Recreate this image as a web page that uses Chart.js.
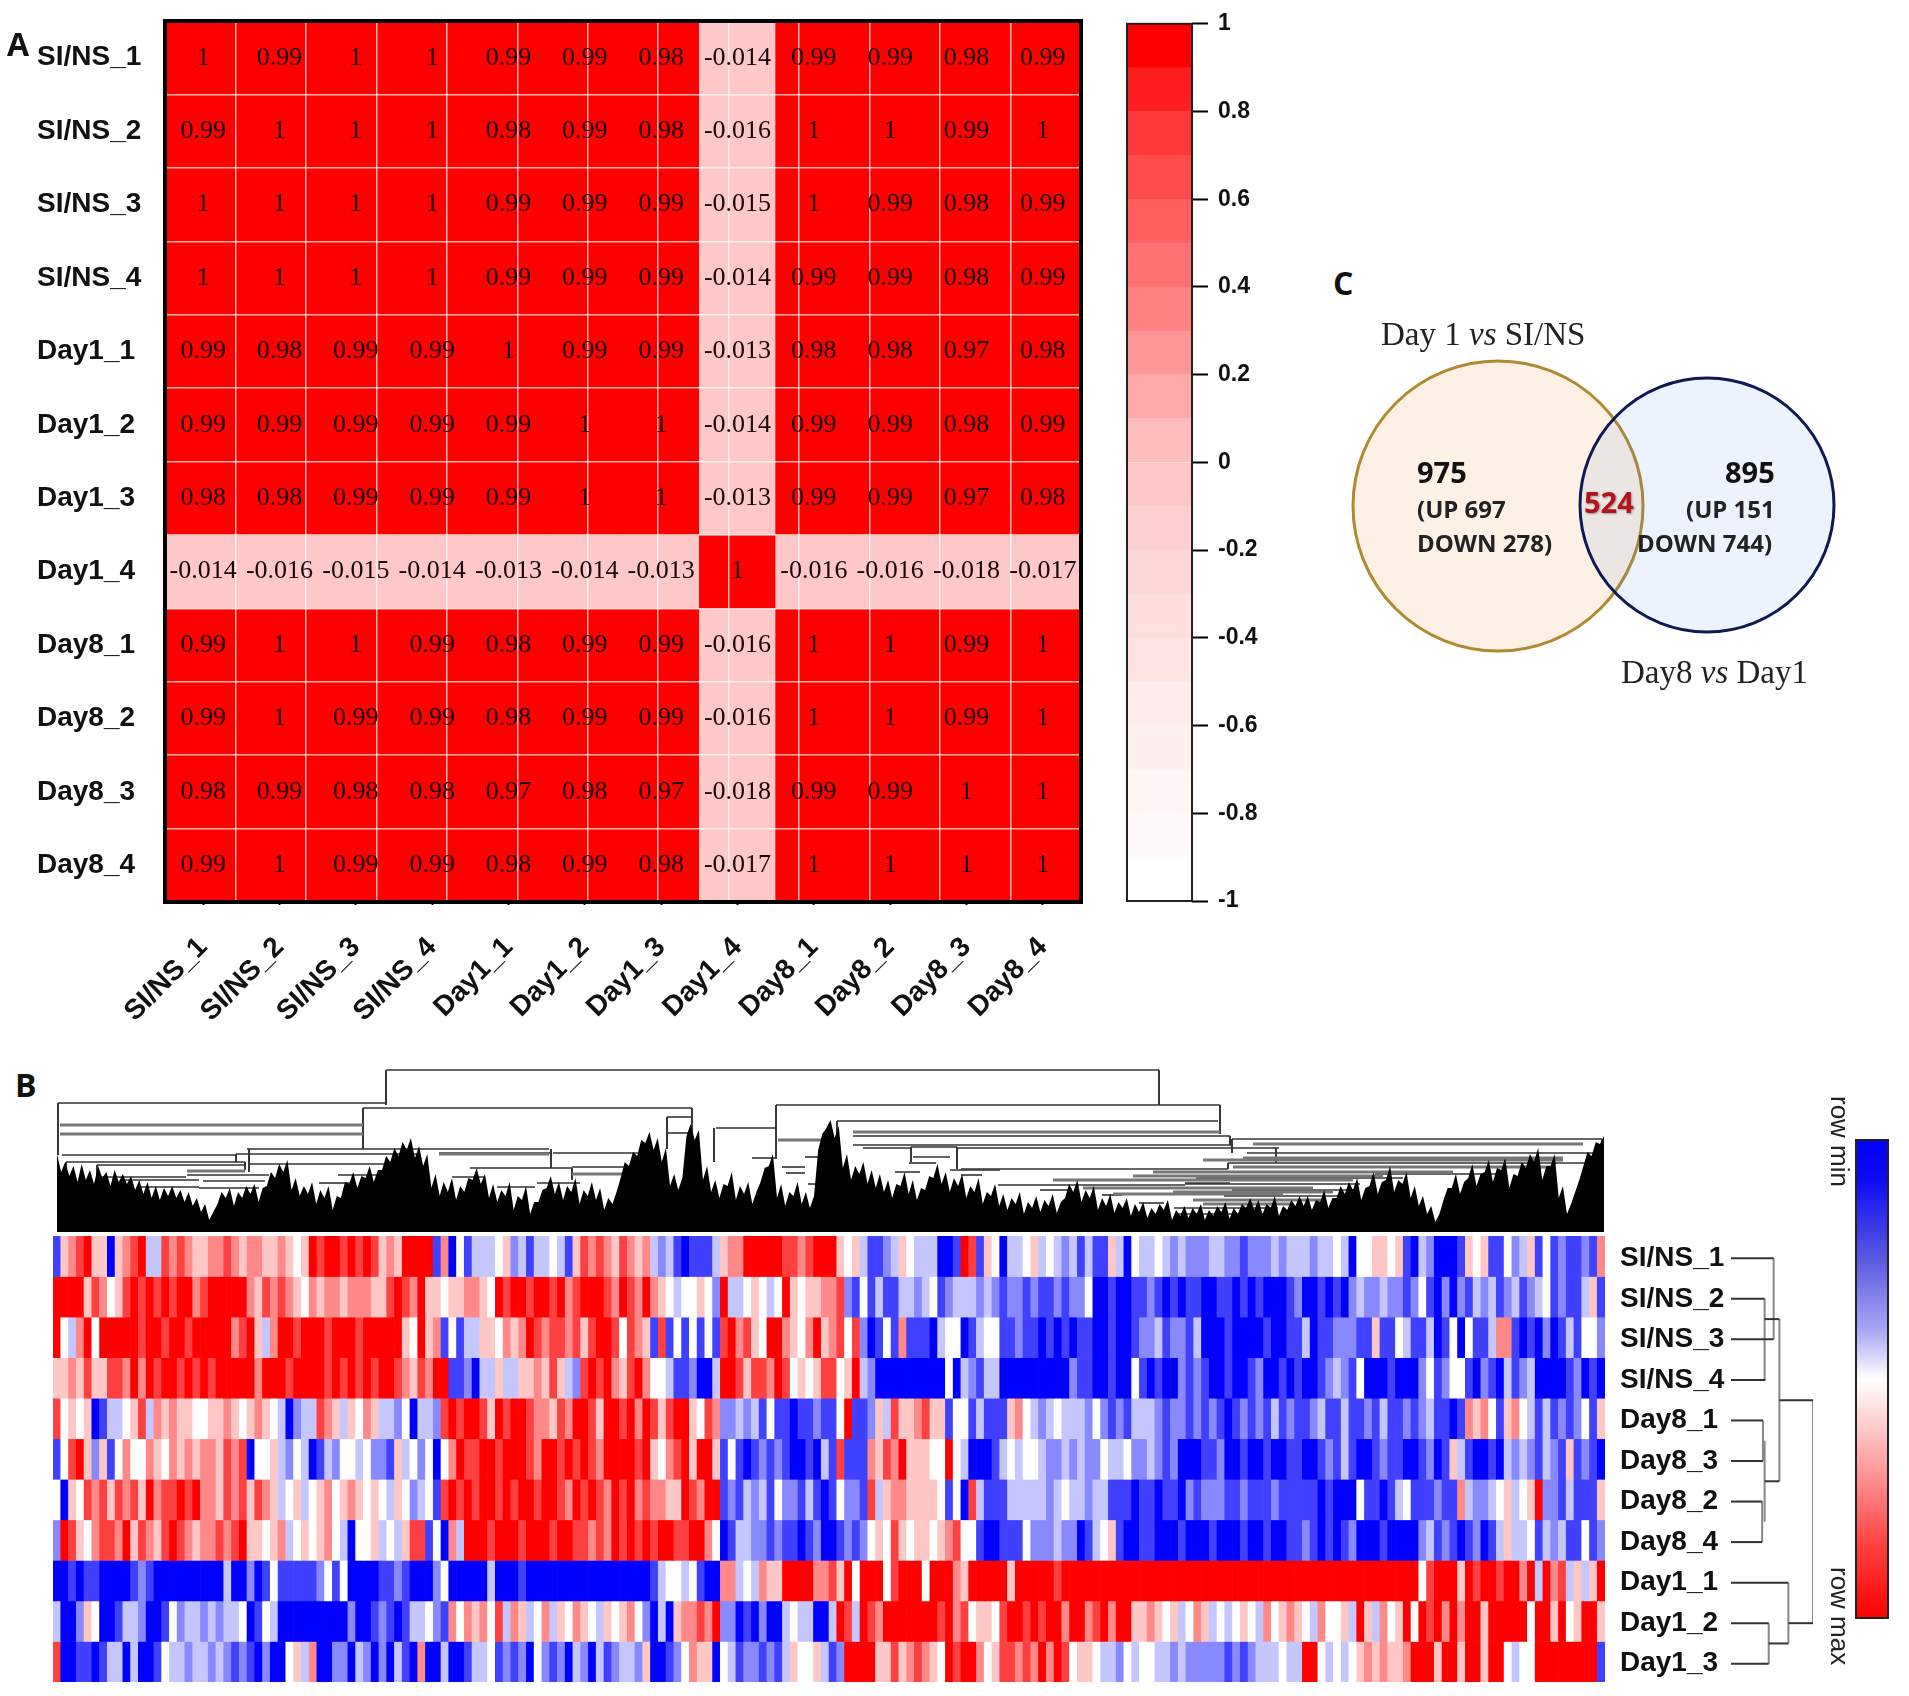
<!DOCTYPE html>
<html lang="en">

<head>
  <meta charset="UTF-8" />
  <title>Correlation, clustering and Venn panels</title>
  <script src="https://cdn.jsdelivr.net/npm/chart.js"></script>
  <style>
    body,
    html {
      margin: 0;
      background: #fff;
      width: 1909px;
      height: 1696px;
      overflow: hidden;
    }

    canvas,
    .txt {
      position: absolute;
    }

    .txt {
      white-space: nowrap;
      line-height: 1;
      color: #111;
    }

    .letter {
      font: bold 32px 'Open Sans', sans-serif;
    }

    .serif {
      font: 33px 'Liberation Serif', serif;
      color: #222;
    }

    .big {
      font: bold 29px 'Open Sans', sans-serif;
    }

    .small {
      font: bold 24px 'Open Sans', sans-serif;
      color: #222;
    }

    .side {
      font: 26px 'Liberation Sans', sans-serif;
      writing-mode: vertical-rl;
      color: #222;
    }
  </style>
</head>

<body>
  <canvas id="corr" width="1100" height="1060" style="left:0;top:0"></canvas>
  <canvas id="corrBar" width="160" height="930" style="left:1100px;top:0"></canvas>
  <canvas id="venn" width="560" height="320" style="left:1320px;top:346px"></canvas>
  <canvas id="colTree" width="1552" height="172" style="left:53px;top:1060px"></canvas>
  <canvas id="heat" width="1552" height="446" style="left:53px;top:1236px"></canvas>
  <canvas id="rowTree" width="205" height="486" style="left:1615px;top:1218px"></canvas>
  <canvas id="heatBar" width="40" height="490" style="left:1852px;top:1134px"></canvas>

  <div class="txt letter" style="left:7px;top:22px">A</div>
  <div class="txt letter" style="left:15px;top:1063px">B</div>
  <div class="txt letter" style="left:1333px;top:261px">C</div>
  <div class="txt serif" style="left:1381px;top:316px">Day 1 <i>vs</i> SI/NS</div>
  <div class="txt serif" style="left:1621px;top:654px">Day8 <i>vs</i> Day1</div>
  <div class="txt big" style="left:1417px;top:452px">975</div>
  <div class="txt small" style="left:1417px;top:492px">(UP 697</div>
  <div class="txt small" style="left:1417px;top:526px">DOWN 278)</div>
  <div class="txt big" style="left:1725px;top:452px">895</div>
  <div class="txt small" style="left:1686px;top:492px">(UP 151</div>
  <div class="txt small" style="left:1637px;top:526px">DOWN 744)</div>
  <div class="txt big" style="left:1584px;top:482px;color:#b5121b;text-shadow:1px 1px 2px #999">524</div>
  <div class="txt side" style="left:1824px;top:1096px">row min</div>
  <div class="txt side" style="left:1824px;top:1567px">row max</div>

  <script>
    // panel A
    const samples = ['SI/NS_1', 'SI/NS_2', 'SI/NS_3', 'SI/NS_4', 'Day1_1', 'Day1_2', 'Day1_3', 'Day1_4', 'Day8_1', 'Day8_2', 'Day8_3', 'Day8_4'];
    const corrSiNs1 = [1, 0.99, 1, 1, 0.99, 0.99, 0.98, -0.014, 0.99, 0.99, 0.98, 0.99];
    const corrSiNs2 = [0.99, 1, 1, 1, 0.98, 0.99, 0.98, -0.016, 1, 1, 0.99, 1];
    const corrSiNs3 = [1, 1, 1, 1, 0.99, 0.99, 0.99, -0.015, 1, 0.99, 0.98, 0.99];
    const corrSiNs4 = [1, 1, 1, 1, 0.99, 0.99, 0.99, -0.014, 0.99, 0.99, 0.98, 0.99];
    const corrDay11 = [0.99, 0.98, 0.99, 0.99, 1, 0.99, 0.99, -0.013, 0.98, 0.98, 0.97, 0.98];
    const corrDay12 = [0.99, 0.99, 0.99, 0.99, 0.99, 1, 1, -0.014, 0.99, 0.99, 0.98, 0.99];
    const corrDay13 = [0.98, 0.98, 0.99, 0.99, 0.99, 1, 1, -0.013, 0.99, 0.99, 0.97, 0.98];
    const corrDay14 = [-0.014, -0.016, -0.015, -0.014, -0.013, -0.014, -0.013, 1, -0.016, -0.016, -0.018, -0.017];
    const corrDay81 = [0.99, 1, 1, 0.99, 0.98, 0.99, 0.99, -0.016, 1, 1, 0.99, 1];
    const corrDay82 = [0.99, 1, 0.99, 0.99, 0.98, 0.99, 0.99, -0.016, 1, 1, 0.99, 1];
    const corrDay83 = [0.98, 0.99, 0.98, 0.98, 0.97, 0.98, 0.97, -0.018, 0.99, 0.99, 1, 1];
    const corrDay84 = [0.99, 1, 0.99, 0.99, 0.98, 0.99, 0.98, -0.017, 1, 1, 1, 1];
    const corrRows = [corrSiNs1, corrSiNs2, corrSiNs3, corrSiNs4, corrDay11, corrDay12, corrDay13, corrDay14, corrDay81, corrDay82, corrDay83, corrDay84];

    // green and blue channel of each colour bar step, from -1 up to 1
    const barSteps = [255, 250, 245, 240, 235, 228, 222, 215, 208, 200, 188, 170, 150, 130, 112, 95, 75, 55, 30, 0];

    // panel B, expression level per gene: 0 = row min (blue), 4 = middle (white), 8 = row max (red)
    const exprSiNs1 = [
      1, 5, 6, 7, 8, 5, 5, 0, 5, 6, 7, 8, 3, 3, 7, 6, 7, 6, 5, 5,
      6, 6, 7, 6, 5, 6, 6, 5, 5, 6, 5, 4, 5, 8, 7, 8, 8, 7, 8, 7,
      8, 7, 5, 6, 5, 8, 8, 8, 8, 1, 6, 0, 4, 1, 3, 3, 3, 4, 5, 2,
      3, 1, 3, 3, 4, 3, 1, 5, 7, 6, 7, 6, 5, 7, 6, 5, 6, 3, 2, 3,
      1, 0, 1, 1, 1, 3, 5, 6, 6, 8, 8, 8, 8, 8, 7, 7, 6, 7, 8, 8,
      8, 5, 4, 5, 3, 1, 1, 2, 3, 5, 4, 3, 3, 3, 0, 0, 1, 8, 7, 1,
      5, 4, 0, 3, 3, 4, 5, 3, 4, 3, 2, 3, 1, 3, 1, 1, 5, 3, 0, 4,
      3, 3, 4, 3, 2, 3, 2, 2, 2, 3, 3, 2, 2, 1, 2, 2, 2, 3, 2, 3,
      3, 3, 2, 3, 3, 4, 3, 0, 4, 4, 5, 5, 4, 5, 1, 0, 3, 2, 0, 0,
      0, 1, 5, 4, 5, 1, 1, 4, 2, 3, 5, 1, 4, 1, 2, 1, 1, 2, 1, 6];
    const exprSiNs2 = [
      8, 8, 8, 8, 5, 7, 6, 4, 5, 7, 8, 7, 8, 7, 8, 7, 8, 8, 6, 7,
      8, 8, 8, 8, 8, 6, 5, 7, 6, 7, 6, 5, 4, 6, 5, 6, 6, 5, 6, 6,
      6, 5, 5, 7, 8, 7, 6, 8, 5, 5, 4, 5, 5, 6, 6, 5, 4, 8, 7, 8,
      8, 7, 8, 8, 7, 8, 6, 7, 8, 8, 8, 7, 6, 8, 7, 6, 8, 6, 5, 4,
      3, 4, 4, 5, 4, 2, 8, 3, 3, 4, 5, 4, 3, 4, 8, 5, 4, 5, 5, 6,
      6, 7, 2, 1, 4, 1, 3, 1, 1, 3, 3, 2, 3, 4, 1, 2, 3, 3, 3, 2,
      3, 2, 1, 2, 2, 1, 2, 1, 1, 2, 1, 2, 2, 4, 0, 0, 1, 0, 0, 1,
      1, 2, 1, 0, 1, 0, 1, 1, 0, 0, 1, 1, 0, 1, 0, 1, 0, 0, 0, 1,
      2, 0, 0, 1, 0, 1, 0, 2, 3, 2, 2, 3, 2, 2, 1, 2, 4, 1, 0, 2,
      0, 2, 1, 3, 2, 3, 1, 2, 3, 1, 2, 3, 4, 1, 2, 1, 1, 3, 5, 1];
    const exprSiNs3 = [
      8, 4, 3, 6, 8, 4, 8, 8, 8, 8, 8, 7, 8, 8, 7, 8, 8, 7, 8, 8,
      8, 8, 8, 6, 7, 8, 5, 3, 6, 8, 8, 7, 8, 8, 8, 7, 8, 8, 8, 7,
      8, 8, 8, 8, 8, 5, 4, 8, 5, 6, 1, 4, 1, 3, 3, 5, 5, 4, 6, 5,
      6, 8, 7, 6, 7, 7, 6, 7, 5, 7, 8, 8, 7, 4, 7, 6, 5, 1, 7, 1,
      4, 1, 4, 1, 4, 1, 7, 8, 6, 7, 5, 4, 8, 8, 6, 5, 4, 6, 8, 5,
      6, 7, 4, 7, 2, 0, 1, 4, 1, 6, 1, 1, 1, 0, 3, 4, 4, 0, 1, 3,
      4, 4, 1, 1, 2, 1, 1, 0, 1, 0, 1, 0, 1, 1, 0, 0, 1, 0, 0, 1,
      2, 2, 3, 1, 2, 2, 1, 3, 0, 0, 0, 1, 0, 0, 0, 0, 1, 0, 0, 1,
      1, 3, 0, 1, 1, 2, 2, 2, 1, 1, 5, 1, 1, 4, 3, 1, 1, 3, 0, 1,
      4, 0, 4, 1, 1, 3, 6, 6, 1, 0, 1, 0, 2, 0, 1, 3, 1, 4, 4, 2];
    const exprSiNs4 = [
      5, 5, 6, 5, 7, 5, 5, 7, 7, 6, 8, 6, 8, 7, 8, 8, 7, 8, 7, 8,
      7, 8, 8, 8, 8, 8, 6, 8, 8, 8, 7, 8, 8, 8, 8, 7, 8, 7, 8, 7,
      8, 7, 8, 8, 7, 6, 5, 7, 6, 8, 8, 1, 1, 2, 0, 3, 3, 5, 3, 3,
      5, 5, 6, 5, 7, 5, 3, 2, 7, 8, 7, 8, 6, 5, 7, 8, 6, 4, 4, 3,
      1, 1, 2, 0, 0, 3, 8, 8, 7, 5, 7, 7, 6, 8, 7, 4, 5, 4, 5, 7,
      7, 4, 5, 8, 3, 2, 0, 0, 0, 0, 0, 0, 0, 0, 0, 4, 0, 3, 2, 1,
      3, 3, 0, 0, 0, 0, 0, 0, 0, 0, 0, 2, 1, 1, 0, 0, 1, 0, 0, 4,
      1, 0, 1, 0, 0, 2, 1, 2, 1, 0, 0, 1, 0, 0, 1, 2, 0, 0, 1, 0,
      1, 0, 0, 1, 2, 3, 2, 1, 4, 0, 0, 0, 1, 0, 0, 0, 2, 4, 1, 2,
      4, 4, 1, 0, 2, 1, 0, 3, 1, 2, 3, 0, 0, 0, 0, 1, 2, 0, 1, 0];
    const exprDay81 = [
      7, 4, 5, 4, 5, 0, 1, 3, 3, 4, 5, 7, 3, 6, 5, 6, 5, 5, 4, 4,
      5, 5, 6, 5, 4, 5, 6, 5, 4, 3, 0, 2, 3, 3, 7, 6, 5, 3, 5, 4,
      6, 5, 3, 3, 2, 4, 0, 3, 3, 2, 7, 8, 7, 8, 8, 7, 5, 8, 7, 8,
      8, 7, 6, 6, 5, 7, 6, 8, 8, 7, 5, 8, 8, 7, 8, 6, 8, 7, 5, 7,
      8, 8, 5, 4, 7, 6, 2, 2, 3, 2, 3, 1, 4, 1, 1, 0, 1, 1, 2, 1,
      1, 4, 8, 1, 1, 2, 5, 3, 7, 5, 5, 6, 7, 5, 5, 1, 4, 4, 1, 3,
      1, 1, 1, 5, 6, 4, 3, 2, 3, 4, 3, 3, 3, 2, 4, 2, 1, 2, 1, 3,
      3, 3, 2, 1, 2, 2, 1, 2, 1, 2, 1, 0, 1, 2, 1, 2, 1, 3, 1, 2,
      1, 1, 2, 3, 1, 1, 3, 1, 1, 2, 1, 3, 1, 1, 2, 1, 2, 3, 1, 1,
      0, 1, 6, 5, 6, 4, 1, 5, 6, 4, 3, 1, 3, 1, 2, 1, 2, 4, 1, 5];
    const exprDay83 = [
      1, 4, 7, 8, 5, 2, 5, 1, 4, 6, 4, 4, 6, 5, 4, 6, 5, 6, 5, 6,
      6, 5, 7, 6, 7, 0, 4, 4, 5, 3, 2, 4, 3, 0, 1, 3, 2, 4, 4, 3,
      4, 2, 2, 1, 5, 3, 4, 2, 4, 0, 4, 6, 8, 7, 7, 8, 8, 7, 8, 8,
      8, 7, 6, 8, 8, 7, 8, 7, 8, 7, 6, 8, 8, 8, 8, 7, 8, 5, 4, 6,
      7, 8, 5, 8, 8, 5, 1, 4, 1, 0, 1, 2, 1, 2, 1, 0, 0, 1, 0, 3,
      1, 7, 1, 1, 1, 6, 5, 7, 6, 8, 5, 5, 5, 4, 4, 8, 4, 3, 0, 0,
      0, 1, 3, 4, 3, 4, 4, 3, 2, 2, 3, 2, 3, 2, 2, 4, 3, 3, 4, 2,
      2, 3, 2, 1, 2, 0, 0, 0, 1, 1, 2, 0, 0, 1, 0, 0, 1, 0, 0, 1,
      1, 0, 0, 1, 2, 1, 3, 1, 0, 0, 1, 2, 1, 1, 0, 0, 1, 2, 0, 1,
      5, 3, 1, 0, 0, 1, 0, 3, 2, 3, 2, 1, 3, 2, 1, 5, 1, 2, 1, 0];
    const exprDay82 = [
      4, 0, 5, 4, 7, 6, 7, 5, 7, 6, 7, 5, 8, 6, 7, 7, 8, 7, 8, 6,
      6, 5, 7, 6, 7, 5, 7, 6, 5, 3, 4, 5, 3, 4, 5, 6, 4, 5, 6, 5,
      4, 5, 4, 3, 5, 4, 2, 3, 4, 1, 7, 8, 7, 8, 7, 8, 8, 7, 8, 7,
      8, 8, 7, 8, 8, 7, 6, 8, 7, 8, 7, 6, 8, 7, 8, 6, 7, 6, 6, 5,
      5, 8, 7, 6, 8, 8, 1, 2, 1, 3, 2, 3, 1, 4, 2, 2, 1, 3, 1, 0,
      1, 4, 2, 2, 1, 7, 3, 5, 6, 6, 5, 5, 5, 5, 4, 1, 4, 0, 7, 3,
      1, 1, 1, 3, 3, 3, 3, 3, 2, 3, 4, 3, 3, 2, 3, 3, 1, 1, 1, 0,
      1, 1, 0, 1, 1, 0, 2, 1, 2, 2, 2, 1, 1, 2, 1, 1, 1, 2, 1, 1,
      1, 1, 1, 0, 1, 0, 0, 0, 4, 1, 1, 0, 1, 3, 4, 1, 1, 1, 2, 1,
      1, 6, 3, 2, 2, 3, 4, 5, 3, 4, 5, 8, 2, 2, 1, 3, 1, 1, 1, 5];
    const exprDay84 = [
      2, 8, 7, 5, 4, 6, 7, 7, 6, 8, 5, 7, 6, 5, 7, 8, 7, 6, 5, 6,
      6, 7, 6, 7, 8, 5, 5, 4, 5, 6, 3, 4, 5, 4, 5, 6, 4, 3, 0, 4,
      4, 5, 3, 4, 3, 5, 7, 7, 1, 4, 0, 6, 3, 8, 8, 8, 7, 8, 8, 8,
      7, 8, 8, 8, 7, 8, 8, 7, 7, 6, 7, 6, 8, 7, 8, 7, 8, 7, 8, 8,
      7, 7, 8, 8, 6, 4, 0, 1, 3, 3, 2, 2, 1, 2, 1, 1, 0, 1, 2, 0,
      0, 1, 2, 1, 2, 4, 5, 4, 7, 5, 4, 5, 5, 4, 5, 6, 7, 4, 4, 1,
      0, 0, 1, 1, 1, 4, 2, 2, 2, 3, 2, 2, 0, 1, 3, 4, 5, 1, 0, 0,
      1, 1, 0, 0, 0, 1, 0, 0, 0, 1, 0, 0, 0, 1, 0, 0, 1, 0, 0, 1,
      1, 2, 1, 0, 1, 0, 1, 2, 0, 0, 0, 1, 0, 0, 0, 0, 2, 3, 1, 2,
      1, 0, 1, 2, 0, 1, 3, 5, 3, 3, 4, 1, 3, 2, 3, 1, 1, 4, 1, 2];
    const exprDay11 = [
      0, 0, 1, 0, 1, 1, 0, 0, 0, 0, 1, 2, 1, 0, 0, 0, 0, 0, 0, 0,
      0, 0, 3, 0, 0, 2, 0, 1, 4, 1, 1, 1, 1, 1, 2, 4, 1, 4, 0, 0,
      0, 0, 1, 1, 2, 1, 0, 0, 0, 2, 4, 0, 0, 0, 0, 0, 3, 0, 0, 0,
      1, 0, 0, 0, 0, 0, 0, 0, 0, 0, 0, 0, 0, 0, 0, 0, 0, 1, 3, 4,
      4, 3, 4, 1, 0, 0, 6, 6, 3, 4, 3, 6, 5, 5, 8, 8, 8, 8, 6, 6,
      7, 5, 8, 4, 8, 8, 8, 4, 7, 8, 8, 8, 4, 8, 8, 8, 6, 5, 8, 8,
      8, 8, 8, 5, 8, 8, 8, 8, 8, 7, 8, 8, 8, 8, 8, 8, 8, 8, 8, 8,
      8, 8, 8, 8, 8, 8, 8, 8, 8, 8, 8, 8, 8, 8, 8, 8, 8, 8, 8, 8,
      8, 8, 8, 8, 8, 8, 8, 8, 8, 8, 8, 8, 8, 8, 8, 8, 4, 7, 8, 8,
      8, 5, 8, 7, 8, 8, 7, 8, 8, 6, 8, 3, 8, 6, 7, 3, 5, 3, 5, 8];
    const exprDay12 = [
      3, 0, 0, 2, 5, 4, 0, 0, 1, 3, 3, 2, 0, 0, 1, 4, 2, 3, 3, 2,
      3, 2, 3, 3, 4, 0, 1, 4, 3, 0, 0, 0, 0, 0, 0, 0, 0, 0, 2, 0,
      0, 1, 2, 1, 0, 1, 3, 3, 4, 2, 1, 6, 4, 6, 5, 6, 4, 7, 3, 6,
      5, 3, 4, 6, 3, 5, 4, 6, 5, 4, 3, 5, 4, 5, 6, 4, 2, 0, 3, 0,
      5, 6, 6, 7, 6, 8, 2, 2, 0, 1, 0, 2, 0, 0, 3, 4, 3, 3, 0, 0,
      3, 8, 7, 3, 8, 7, 6, 8, 8, 8, 8, 8, 8, 8, 7, 8, 6, 7, 4, 5,
      5, 4, 7, 8, 8, 7, 8, 7, 8, 8, 6, 8, 8, 6, 7, 8, 6, 8, 8, 5,
      5, 6, 5, 4, 5, 3, 4, 6, 5, 3, 4, 3, 4, 5, 4, 3, 6, 4, 5, 6,
      5, 4, 3, 6, 4, 4, 5, 3, 8, 5, 3, 6, 4, 5, 8, 4, 8, 7, 8, 6,
      8, 6, 8, 8, 5, 8, 8, 8, 8, 8, 4, 8, 8, 5, 8, 4, 5, 8, 8, 5];
    const exprDay13 = [
      7, 0, 0, 1, 1, 0, 1, 3, 3, 0, 3, 0, 0, 1, 4, 3, 3, 2, 3, 3,
      2, 3, 2, 1, 2, 1, 0, 2, 0, 0, 4, 5, 3, 6, 0, 0, 2, 2, 0, 3,
      2, 0, 2, 0, 3, 1, 0, 6, 0, 0, 3, 0, 0, 1, 3, 3, 4, 1, 2, 1,
      2, 0, 4, 2, 1, 2, 0, 3, 2, 0, 3, 1, 2, 3, 3, 2, 5, 0, 0, 1,
      2, 4, 6, 5, 5, 0, 4, 3, 1, 2, 2, 1, 2, 1, 3, 5, 4, 4, 5, 3,
      1, 2, 8, 8, 8, 8, 5, 5, 7, 5, 6, 7, 6, 5, 4, 8, 7, 8, 8, 6,
      4, 5, 7, 7, 6, 7, 6, 8, 6, 8, 7, 4, 5, 5, 4, 3, 3, 2, 4, 3,
      4, 4, 3, 3, 2, 3, 2, 2, 2, 2, 2, 1, 2, 1, 2, 3, 3, 3, 4, 3,
      3, 8, 8, 4, 3, 4, 3, 4, 5, 6, 5, 6, 5, 5, 6, 8, 8, 8, 5, 8,
      8, 5, 8, 8, 5, 8, 8, 4, 3, 4, 4, 8, 8, 8, 8, 8, 8, 8, 8, 1];
    const heatOrder = ['SI/NS_1', 'SI/NS_2', 'SI/NS_3', 'SI/NS_4', 'Day8_1', 'Day8_3', 'Day8_2', 'Day8_4', 'Day1_1', 'Day1_2', 'Day1_3'];
    const heatRows = [exprSiNs1, exprSiNs2, exprSiNs3, exprSiNs4, exprDay81, exprDay83, exprDay82, exprDay84, exprDay11, exprDay12, exprDay13];
    const heatColors = ['#0000ff', '#4040ff', '#8888ff', '#c6c6ff', '#ffffff', '#ffc6c6', '#ff8888', '#ff4040', '#ff0000'];

    // column tree: outline of the dense leaves, left to right, height above the leaves
    const leafHeights = [
      78, 60, 70, 56, 66, 50, 68, 52, 62, 48, 66, 54, 60, 46, 62, 50, 58,
      48, 56, 42, 52, 38, 50, 34, 46, 32, 44, 36, 46, 34, 42,
      30, 40, 26, 34, 20, 28, 12, 20,
      28, 40, 34, 44, 26, 40, 34, 46, 38, 48, 30, 44,
      46, 60, 54, 68, 60, 72,
      42, 54, 36, 46, 38, 50, 28, 42, 34, 46, 22, 36,
      34, 50, 48, 60, 44, 56, 54, 66, 50, 62,
      62, 76, 70, 84, 76, 90, 82, 94, 74, 86, 66, 78,
      44, 58, 36, 50, 40, 54, 32, 46, 40, 54,
      52, 64, 48, 58,
      34, 48, 30, 42, 36, 50, 22, 36, 32, 46, 18, 30,
      30, 42, 44, 56,
      38, 50, 32, 46, 40, 54, 28, 42, 36, 50, 32, 44, 22, 34, 28, 40,
      54, 70, 66, 80, 76, 92, 89, 100, 82, 94, 70, 84,
      46, 58, 42, 54,
      96, 108, 92, 102,
      52, 66, 40, 52, 34, 48, 46, 60, 32, 46, 38, 50, 28, 40,
      50, 64, 66, 78,
      34, 48, 26, 40, 36, 50, 28, 40, 24, 36,
      82, 98, 104, 112, 94, 106,
      64, 78, 52, 66, 58, 70, 48, 62,
      44, 58, 40, 52, 34, 48, 46, 60, 38, 52, 32, 44, 42, 56, 54, 68, 48, 60, 40, 54,
      46, 58, 34, 46, 40, 54, 28, 40, 36, 48,
      26, 38, 22, 34, 28, 40, 18, 30, 24, 36, 20, 32, 26, 38, 19, 30,
      34, 48, 40, 52, 30, 42, 34, 46,
      22, 34, 26, 38, 19, 30, 24, 34,
      16, 28, 20, 30, 14, 24, 18, 28, 22, 32, 12, 22, 16, 26,
      14, 24, 18, 28, 12, 22, 16, 26, 20, 30, 13, 24, 18, 28, 24, 34,
      22, 32, 18, 28, 24, 36, 16, 26, 22, 32, 26, 36,
      26, 36, 22, 32, 30, 42, 24, 34, 34, 46, 38, 50,
      42, 54, 32, 44, 46, 60, 38, 50, 52, 66, 40, 52, 48, 60, 34, 46,
      26, 36, 18, 26, 10, 18,
      32, 44, 44, 58, 38, 50, 54, 68, 46, 58, 60, 72, 50, 64, 62, 74, 44, 58, 56, 70,
      64, 78, 70, 84, 52, 66, 66, 78,
      34, 46, 18, 28, 40, 52,
      66, 80, 76, 90, 88, 96];
    // merges as [first leaf, last leaf, height]
    const colMerges = [
      [333, 1106, 162], [5, 333, 129], [310, 639, 124], [723, 1167, 127], [784, 1165, 111], [800, 1177, 96],
      [800, 1179, 87], [663, 723, 104], [614, 639, 115], [614, 639, 99], [1179, 1549, 93], [904, 1226, 84],
      [1194, 1547, 79], [1175, 1538, 69], [908, 1175, 63], [858, 904, 85], [810, 858, 84], [194, 496, 83],
      [9, 183, 77], [183, 366, 78], [386, 498, 79], [500, 597, 79], [13, 192, 70], [196, 351, 68], [44, 192, 67],
      [417, 519, 64], [519, 597, 65], [134, 216, 57], [285, 339, 57], [46, 133, 55], [67, 146, 52], [88, 146, 45],
      [150, 212, 51], [146, 206, 44], [266, 297, 49], [444, 482, 45], [484, 527, 49], [399, 432, 55], [699, 723, 74],
      [752, 777, 75], [729, 752, 65], [733, 752, 59], [755, 773, 48], [860, 897, 75], [897, 947, 62], [856, 883, 69],
      [842, 867, 60], [908, 929, 57], [945, 983, 47], [987, 1015, 42], [1049, 1069, 37], [1086, 1111, 29],
      [1143, 1350, 54], [1132, 1307, 48], [1179, 1303, 42], [1171, 1294, 36], [1132, 1177, 49], [1121, 1225, 24],
      [1122, 1209, 18], [1322, 1447, 58], [983, 1132, 47]];
    const colMergesDense = [
      [725, 782, 92], [800, 1167, 100], [7, 310, 107], [7, 310, 98], [386, 496, 78], [519, 597, 58], [134, 192, 61],
      [1190, 1510, 74], [1180, 1500, 65], [1060, 1230, 38], [1200, 1530, 88], [1150, 1510, 72], [1100, 1400, 60],
      [1080, 1330, 56], [1000, 1300, 52], [1030, 1260, 44], [1120, 1280, 40], [1140, 1270, 32], [1150, 1240, 28]];
    // stems as [leaf, low height, high height]
    const colStems = [
      [333, 127, 162], [1106, 127, 162], [5, 77, 129], [310, 83, 124], [639, 99, 124], [614, 83, 115], [661, 70, 104],
      [723, 73, 127], [1167, 98, 127], [784, 78, 111], [1177, 87, 96], [858, 70, 85], [904, 63, 85], [1223, 69, 84],
      [498, 64, 83], [519, 52, 64], [183, 70, 78], [192, 62, 70], [196, 60, 83], [1549, 60, 93], [1179, 79, 93],
      [1175, 63, 69], [13, 60, 70], [44, 50, 67]];

    // row tree: [sample row, distance from, distance to]
    const rowBranches = [
      [0, 0, 52], [2, 0, 52], [1, 0, 41], [3, 0, 42], [1.5, 41, 59], [4, 0, 39], [5, 0, 39], [6, 0, 38], [7, 0, 38],
      [5.5, 41, 59], [3.5, 59, 100], [8, 0, 70], [9, 0, 46], [10, 0, 46], [9.5, 46, 70], [9, 70, 100]];
    // [distance, row from, row to]
    const rowJoins = [
      [52, 0, 2], [41, 1, 3], [59, 1.5, 5.5], [39, 4, 5], [38, 6, 7], [41, 4.5, 6.5], [100, 3.5, 9], [70, 8, 9.5], [46, 9, 10]];

    // panel C
    const vennX = [178, 387];
    const vennY = [160, 159];
    const vennR = [145, 127];

    const bandColor = v => {
      const step = Math.min(19, Math.floor((v + 1) * 10));
      return `rgb(255,${barSteps[step]},${barSteps[step]})`;
    };

    // no room for chart.js to round the plot area
    const fixedSize = size => scale => {
      if (scale.isHorizontal()) scale.height = size;
      else scale.width = size;
    };
    const frame = (width, color) => ({
      id: 'frame',
      afterDraw(chart) {
        const { ctx, chartArea: a } = chart;
        ctx.save();
        ctx.strokeStyle = color;
        ctx.lineWidth = width;
        ctx.strokeRect(a.left, a.top, a.right - a.left, a.bottom - a.top);
        ctx.restore();
      }
    });
    const cellValues = {
      id: 'cellValues',
      afterDraw(chart) {
        const { ctx, scales } = chart;
        ctx.save();
        ctx.font = "26px 'Liberation Serif'";
        ctx.fillStyle = '#1a0505';
        ctx.textAlign = 'center';
        ctx.textBaseline = 'middle';
        corrRows.forEach((row, r) => row.forEach((v, c) => {
          ctx.fillText(String(v), scales.x.getPixelForValue(c), scales.y.getPixelForValue(r + 0.5));
        }));
        ctx.restore();
      }
    };
    const base = {
      responsive: false,
      animation: false,
      devicePixelRatio: 1,
      events: [],
      plugins: { legend: { display: false }, tooltip: { enabled: false } }
    };
    const labelFont = { family: "'Liberation Sans'", size: 28, weight: 'bold' };

    new Chart(document.getElementById('corr'), {
      type: 'bar',
      data: {
        labels: samples,
        datasets: corrRows.map(row => ({
          data: row.map(() => 1),
          backgroundColor: row.map(bandColor),
          barPercentage: 1,
          categoryPercentage: 1,
          yAxisID: 'y'
        }))
      },
      options: {
        ...base,
        layout: { autoPadding: false, padding: { top: 21, right: 19, left: 37 } },
        scales: {
          x: {
            stacked: true,
            grid: { offset: false, drawOnChartArea: false, tickLength: 3, tickColor: '#000', tickWidth: 2 },
            border: { display: false },
            ticks: { autoSkip: false, maxRotation: 45, minRotation: 45, color: '#111', font: labelFont, padding: 26 },
            afterFit: fixedSize(158)
          },
          xLines: {
            type: 'linear',
            position: 'bottom',
            min: 0,
            max: 12,
            ticks: { display: false, stepSize: 1 },
            border: { display: false },
            grid: { color: 'rgba(255,255,255,0.7)', lineWidth: 1.5, z: 1, drawTicks: false },
            afterFit: fixedSize(0)
          },
          y: { display: false, stacked: true, reverse: true, min: 0, max: 12 },
          yLabels: {
            type: 'category',
            position: 'left',
            labels: samples,
            offset: true,
            grid: { offset: true, color: 'rgba(255,255,255,0.7)', lineWidth: 1.5, z: 1, drawTicks: false },
            border: { display: false },
            ticks: { crossAlign: 'far', color: '#111', font: labelFont, padding: 0, autoSkip: false },
            afterFit: fixedSize(128)
          }
        }
      },
      plugins: [cellValues, frame(4, '#000')]
    });

    new Chart(document.getElementById('corrBar'), {
      type: 'bar',
      data: {
        labels: [''],
        datasets: barSteps.map((s, i) => ({
          data: [[-1 + i / 10, -0.9 + i / 10]],
          backgroundColor: `rgb(255,${s},${s})`,
          barPercentage: 1,
          categoryPercentage: 1
        }))
      },
      options: {
        ...base,
        layout: { autoPadding: false, padding: { left: 27, top: 21, bottom: 29 } },
        scales: {
          x: { display: false, stacked: true },
          y: {
            position: 'right',
            min: -1,
            max: 1,
            border: { display: false },
            grid: { drawOnChartArea: false, tickLength: 16, tickColor: '#000', tickWidth: 2 },
            ticks: {
              stepSize: 0.2,
              padding: 10,
              color: '#111',
              font: { family: "'Liberation Sans'", size: 23, weight: 'bold' },
              callback: v => String(+v.toFixed(1))
            },
            afterFit: fixedSize(68)
          }
        }
      },
      plugins: [frame(2, '#222')]
    });

    new Chart(document.getElementById('venn'), {
      type: 'bubble',
      data: {
        datasets: vennX.map((x, i) => ({
          data: [{ x, y: vennY[i], r: vennR[i] }],
          backgroundColor: i ? 'rgba(75,135,225,0.1)' : 'rgb(253,240,228)',
          borderColor: i ? '#0f1a52' : '#b08a2e',
          borderWidth: 3,
          order: i ? 1 : 2
        }))
      },
      options: {
        ...base,
        scales: {
          x: { display: false, min: 0, max: 560 },
          y: { display: false, reverse: true, min: 0, max: 320 }
        },
        layout: { autoPadding: false }
      }
    });

    const colLine = (pts, color, width) => ({
      data: pts,
      showLine: true,
      pointRadius: 0,
      borderColor: color,
      borderWidth: width
    });
    new Chart(document.getElementById('colTree'), {
      type: 'scatter',
      data: {
        datasets: [
          {
            data: leafHeights.map((h, i) => ({ x: 4 + i * 1547 / (leafHeights.length - 1), y: h })),
            showLine: true,
            pointRadius: 0,
            borderWidth: 0,
            backgroundColor: '#000',
            fill: 'origin'
          },
          ...colMergesDense.map(m => colLine([{ x: m[0], y: m[2] }, { x: m[1], y: m[2] }], '#777', 3)),
          ...colMerges.map(m => colLine([{ x: m[0], y: m[2] }, { x: m[1], y: m[2] }], '#333', 1.6)),
          ...colStems.map(s => colLine([{ x: s[0], y: s[1] }, { x: s[0], y: s[2] }], '#222', 1.8))
        ]
      },
      options: {
        ...base,
        layout: { autoPadding: false },
        scales: {
          x: { display: false, min: 0, max: 1552 },
          y: { display: false, min: 0, max: 172 }
        }
      }
    });

    new Chart(document.getElementById('heat'), {
      type: 'bar',
      data: {
        labels: exprSiNs1.map((_, i) => i),
        datasets: heatRows.map(row => ({
          data: row.map(() => 1),
          backgroundColor: row.map(v => heatColors[v]),
          barPercentage: 1,
          categoryPercentage: 1
        }))
      },
      options: {
        ...base,
        layout: { autoPadding: false },
        scales: {
          x: { display: false, stacked: true },
          y: { display: false, stacked: true, reverse: true, min: 0, max: heatOrder.length }
        }
      }
    });

    new Chart(document.getElementById('rowTree'), {
      type: 'scatter',
      data: {
        datasets: [
          ...rowBranches.map(b => colLine([{ x: b[1], y: b[0] }, { x: b[2], y: b[0] }], '#333', 2)),
          ...rowJoins.map(j => colLine([{ x: j[0], y: j[1] }, { x: j[0], y: j[2] }], '#888', 2))
        ]
      },
      options: {
        ...base,
        layout: { autoPadding: false, padding: { left: 5, right: 7, top: 20, bottom: 20 } },
        scales: {
          x: { display: false, min: 0, max: 100 },
          y: { display: false, reverse: true, min: -0.5, max: 10.5 },
          names: {
            type: 'category',
            position: 'left',
            labels: heatOrder,
            offset: true,
            axis: 'y',
            grid: { display: false },
            border: { display: false },
            ticks: { crossAlign: 'far', color: '#111', font: labelFont, padding: 0, autoSkip: false },
            afterFit: fixedSize(111)
          }
        }
      }
    });

    new Chart(document.getElementById('heatBar'), {
      type: 'bar',
      data: {
        labels: [''],
        datasets: [{
          data: [[0, 1]],
          barPercentage: 1,
          categoryPercentage: 1,
          backgroundColor(ctx) {
            const a = ctx.chart.chartArea;
            if (!a) return '#fff';
            const g = ctx.chart.ctx.createLinearGradient(0, a.top, 0, a.bottom);
            g.addColorStop(0, '#0000ff');
            g.addColorStop(0.08, '#0a0af5');
            g.addColorStop(0.25, '#5a5ae0');
            g.addColorStop(0.4, '#a8a8f5');
            g.addColorStop(0.5, '#ffffff');
            g.addColorStop(0.65, '#ffb0b0');
            g.addColorStop(0.85, '#ff4040');
            g.addColorStop(1, '#ff0000');
            return g;
          }
        }]
      },
      options: {
        ...base,
        layout: { autoPadding: false, padding: { left: 4, right: 4, top: 6, bottom: 6 } },
        scales: {
          x: { display: false },
          y: { display: false, min: 0, max: 1 }
        }
      },
      plugins: [frame(2, '#222')]
    });
  </script>
</body>

</html>
